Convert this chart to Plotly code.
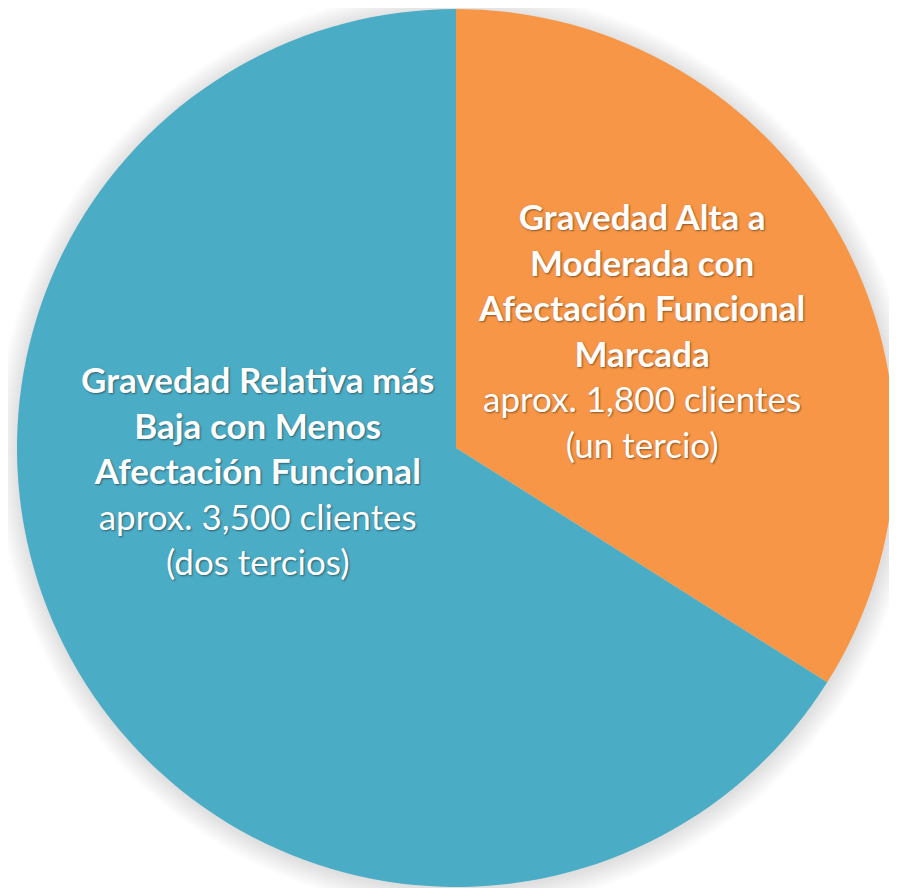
import plotly.graph_objects as go

# Data
labels = ["Gravedad Alta a Moderada con Afectación Funcional Marcada",
          "Gravedad Relativa más Baja con Menos Afectación Funcional"]
values = [1800, 3500]
colors = ["#F79646", "#4BACC6"]
bold_lines = [["Gravedad Alta a", "Moderada con", "Afectación Funcional", "Marcada"],
              ["Gravedad Relativa más", "Baja con Menos", "Afectación Funcional"]]
plain_lines = [["aprox. 1,800 clientes", "(un tercio)"],
               ["aprox. 3,500 clientes", "(dos tercios)"]]

off = 8  # page body margin
W, H = 897 - off, 896 - 2 * off
cx, cy, r = 456 - off, 448 - off, 439

fig = go.Figure()
fig.add_trace(go.Pie(
    labels=labels, values=values, sort=False, direction="clockwise", rotation=0,
    marker=dict(colors=colors, line=dict(width=0)),
    textinfo="none", hoverinfo="label+value", showlegend=False,
    domain=dict(x=[(cx - r) / W, (cx + r) / W],
                y=[max(0, 1 - (cy + r) / H), min(1, 1 - (cy - r) / H)]),
))

# soft shadow behind pie
shapes = []
n = 16
for i in range(n):
    rr = r + 22 - i * 1.4
    shapes.append(dict(type="circle", xref="paper", yref="paper", layer="below",
                       x0=(cx + 1 - rr) / W, x1=(cx + 1 + rr) / W,
                       y0=1 - (cy + 2 + rr) / H, y1=1 - (cy + 2 - rr) / H,
                       fillcolor="rgba(0,0,0,0.009)", line=dict(width=0)))

pos = [(641 - off, 330 - off), (257 - off, 470 - off)]
anns = []
for k in range(2):
    txt = "<br>".join(["<b>%s</b>" % s for s in bold_lines[k]] + plain_lines[k])
    anns.append(dict(x=pos[k][0] / W, y=1 - pos[k][1] / H, xref="paper", yref="paper",
                     text=txt, showarrow=False, align="center",
                     xanchor="center", yanchor="middle",
                     font=dict(family="Lato", size=35, color="white",
                               shadow="1px 1px 2px rgba(0,0,0,0.45)")))

fig.update_layout(width=W, height=H, margin=dict(l=0, r=0, t=0, b=0),
                  paper_bgcolor="white", plot_bgcolor="white",
                  shapes=shapes, annotations=anns)
fig.write_html("out.html")
